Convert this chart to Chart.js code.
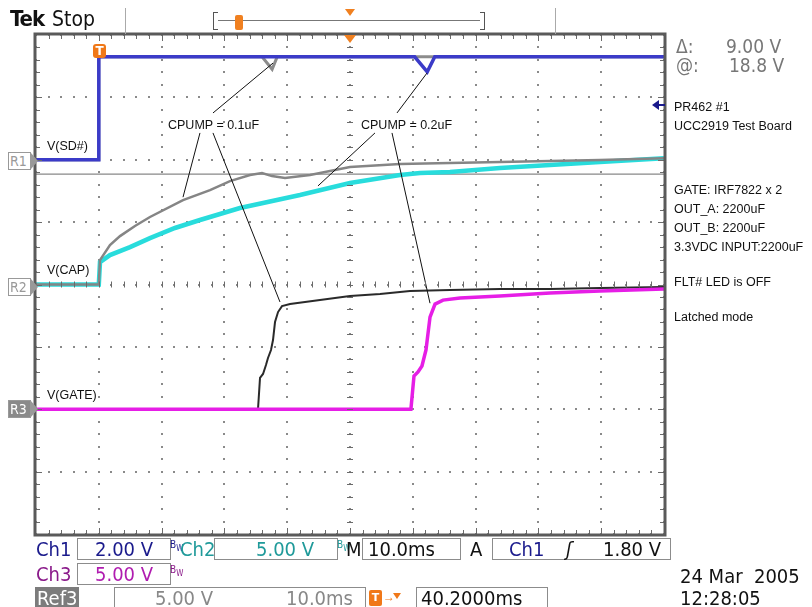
<!DOCTYPE html>
<html><head><meta charset="utf-8">
<script src="https://cdn.jsdelivr.net/npm/chart.js@4/dist/chart.umd.min.js"></script>
<style>
html,body{margin:0;padding:0;background:#fff;}
#wrap{position:relative;width:812px;height:607px;overflow:hidden;font-family:"Liberation Sans",Arial,sans-serif;}
canvas{position:absolute;left:0;top:0;}
.t{position:absolute;white-space:nowrap;line-height:1;}
.tek{font-family:"DejaVu Sans Condensed","DejaVu Sans",sans-serif;font-stretch:condensed;}
.box{position:absolute;border:1px solid #8c8c8c;height:20px;background:#fff;}
.lab{font-size:12.5px;color:#111;}
.big{font-size:19px;color:#777;}
.bar{font-size:20px;}
.bw{font-size:10px;}
.bw sub{font-size:8px;}
.rm{position:absolute;width:20px;height:16px;border:1px solid #999;color:#999;font-size:14px;font-family:"DejaVu Sans Condensed","DejaVu Sans",sans-serif;line-height:16px;text-align:left;padding-left:1px;background:#fff;}
.rm:after{content:"";position:absolute;right:-8px;top:0px;border-top:8px solid transparent;border-bottom:8px solid transparent;border-left:7px solid #999;}
.rm.sel{background:#8a8a8a;color:#fff;}
.sep{position:absolute;width:1px;background:#aaa;}
</style></head>
<body><div id="wrap">
<canvas id="c" width="812" height="607"></canvas>

<div class="t tek" style="left:10px;top:8px;font-size:22px;font-weight:bold;letter-spacing:-1px;color:#111;">Tek</div>
<div class="t tek" style="left:52px;top:9px;font-size:21px;color:#111;">Stop</div>
<div class="sep" style="left:125px;top:8px;height:26px;"></div>
<div class="sep" style="left:555px;top:8px;height:26px;"></div>
<div class="t" style="left:213px;top:12px;width:4px;height:16px;border:1px solid #555;border-right:none;"></div>
<div class="t" style="left:480px;top:12px;width:4px;height:16px;border:1px solid #555;border-left:none;"></div>
<div class="t" style="left:218px;top:20px;width:262px;height:1px;background:#777;"></div>
<div class="t" style="left:235px;top:15px;width:8px;height:15px;background:#f08020;border-radius:2px;"></div>
<div class="t" style="left:345px;top:9px;width:0;height:0;border-left:5px solid transparent;border-right:5px solid transparent;border-top:7px solid #f08020;"></div>

<div class="t tek big" style="left:676px;top:37px;">Δ:</div>
<div class="t tek big" style="left:726px;top:37px;">9.00 V</div>
<div class="t tek big" style="left:676px;top:56px;">@:</div>
<div class="t tek big" style="left:729px;top:56px;">18.8 V</div>

<div class="t" style="left:652px;top:100px;width:0;height:0;border-top:5px solid transparent;border-bottom:5px solid transparent;border-right:7px solid #1a1a8c;"></div>
<div class="t" style="left:658px;top:104px;width:7px;height:2px;background:#1a1a8c;"></div>
<div class="t lab" style="left:674px;top:101px;">PR462 #1</div>
<div class="t lab" style="left:674px;top:120px;">UCC2919 Test Board</div>
<div class="t lab" style="left:674px;top:184px;">GATE: IRF7822 x 2</div>
<div class="t lab" style="left:674px;top:203px;">OUT_A: 2200uF</div>
<div class="t lab" style="left:674px;top:222px;">OUT_B: 2200uF</div>
<div class="t lab" style="left:674px;top:241px;">3.3VDC INPUT:2200uF</div>
<div class="t lab" style="left:674px;top:276px;">FLT# LED is OFF</div>
<div class="t lab" style="left:674px;top:311px;">Latched mode</div>

<div class="t lab" style="left:47px;top:140px;">V(SD#)</div>
<div class="t lab" style="left:47px;top:264px;">V(CAP)</div>
<div class="t lab" style="left:47px;top:389px;">V(GATE)</div>
<div class="t lab" style="left:168px;top:119px;">CPUMP = 0.1uF</div>
<div class="t lab" style="left:361px;top:119px;">CPUMP = 0.2uF</div>

<div class="rm" style="left:8px;top:152px;">R1</div>
<div class="rm" style="left:8px;top:278px;">R2</div>
<div class="rm sel" style="left:8px;top:400px;">R3</div>

<div class="t" style="left:93px;top:44px;width:13px;height:14px;background:#f07818;border-radius:3px;color:#fff;font:bold 12px 'DejaVu Sans';text-align:center;line-height:14px;">T</div>
<div class="t" style="left:344px;top:35px;width:0;height:0;border-left:6px solid transparent;border-right:6px solid transparent;border-top:8px solid #f08020;"></div>

<!-- bottom bar -->
<div class="t tek bar" style="left:36px;top:539px;color:#1a1a8c;">Ch1</div>
<div class="box" style="left:77px;top:538px;width:92px;"></div>
<div class="t tek bar" style="left:95px;top:539px;color:#1a1a8c;">2.00 V</div>
<div class="t tek bw" style="left:170px;top:540px;color:#1a1a8c;">B<sub>W</sub></div>
<div class="t tek bar" style="left:180px;top:539px;color:#1f9a9a;">Ch2</div>
<div class="box" style="left:214px;top:538px;width:122px;"></div>
<div class="t tek bar" style="left:256px;top:539px;color:#1f9a9a;">5.00 V</div>
<div class="t tek bw" style="left:337px;top:540px;color:#1f9a9a;">B<sub>W</sub></div>
<div class="t tek bar" style="left:346px;top:539px;color:#111;">M</div>
<div class="box" style="left:362px;top:538px;width:97px;"></div>
<div class="t tek bar" style="left:368px;top:539px;color:#111;">10.0ms</div>
<div class="t tek bar" style="left:470px;top:539px;color:#111;">A</div>
<div class="box" style="left:492px;top:538px;width:177px;"></div>
<div class="t tek bar" style="left:509px;top:539px;color:#1a1a8c;">Ch1</div>
<div class="t tek bar" style="left:566px;top:539px;color:#111;font-style:italic;">ʃ</div>
<div class="t tek bar" style="left:603px;top:539px;color:#111;">1.80 V</div>

<div class="t tek bar" style="left:36px;top:564px;color:#8a1a8a;">Ch3</div>
<div class="box" style="left:77px;top:563px;width:92px;"></div>
<div class="t tek bar" style="left:95px;top:564px;color:#b01cb0;">5.00 V</div>
<div class="t tek bw" style="left:170px;top:565px;color:#8a1a8a;">B<sub>W</sub></div>

<div class="t tek bar" style="left:35px;top:587px;background:#7c7c7c;color:#fff;padding:1px 2px;height:20px;">Ref3</div>
<div class="box" style="left:114px;top:587px;width:250px;"></div>
<div class="t tek bar" style="left:155px;top:588px;color:#888;">5.00 V</div>
<div class="t tek bar" style="left:286px;top:588px;color:#888;">10.0ms</div>
<div class="t" style="left:369px;top:590px;width:13px;height:16px;background:#f07818;border-radius:2px;color:#fff;font:bold 11px 'DejaVu Sans';text-align:center;line-height:16px;">T</div>
<div class="t" style="left:383px;top:591px;color:#f07818;font-size:12px;">→</div>
<div class="t" style="left:393px;top:593px;width:0;height:0;border-left:4px solid transparent;border-right:4px solid transparent;border-top:6px solid #f07818;"></div>
<div class="box" style="left:416px;top:587px;width:130px;"></div>
<div class="t tek bar" style="left:421px;top:588px;color:#111;">40.2000ms</div>

<div class="t tek bar" style="left:680px;top:566px;color:#111;">24 Mar&nbsp; 2005</div>
<div class="t tek bar" style="left:680px;top:588px;color:#111;">12:28:05</div>
</div>
<script>
// ---- data (time in ms relative to trigger, voltage in V) ----
const sdTime      = [-10, 0, 0, 50.3, 52.3, 53.5, 90];
const sdVolts     = [0, 0, 3.3, 3.3, 2.82, 3.3, 3.3];
const sdRefTime   = [-10, 0, 0, 26.0, 27.6, 28.4, 90];
const sdRefVolts  = [0, 0, 3.3, 3.3, 2.9, 3.3, 3.3];
const capTime     = [-10, 0, 0.19, 1.78, 4.97, 8.15, 12.13, 16.11, 22.48, 32.04, 40.0, 47.96, 51.15, 55.92, 63.89, 71.85, 79.81, 90];
const capVolts    = [0, 0, 1.80, 2.36, 3.00, 3.72, 4.53, 5.17, 6.13, 7.17, 8.13, 8.77, 8.93, 9.01, 9.33, 9.57, 9.81, 10.13];
const capRefTime  = [-10, 0, 0.19, 1.78, 3.38, 5.76, 8.15, 13.41, 17.71, 20.89, 24.08, 25.99, 27.58, 29.65, 33.63, 40.0, 47.96, 55.92, 63.89, 71.85, 79.81, 90];
const capRefVolts = [0, 0, 1.96, 3.16, 3.88, 4.69, 5.41, 6.77, 7.57, 8.29, 8.77, 8.93, 8.69, 8.53, 8.77, 9.41, 9.65, 9.73, 9.81, 9.89, 9.97, 10.13];
const gateTime    = [-10, 49.7, 50.19, 50.83, 51.46, 52.10, 52.74, 53.54, 54.81, 57.52, 63.89, 71.85, 79.81, 90];
const gateVolts   = [0, 0, 2.67, 2.99, 3.47, 4.75, 7.39, 8.43, 8.75, 8.91, 9.07, 9.32, 9.48, 9.64];
const gateRefTime = [-10, 25.35, 25.67, 26.15, 26.62, 26.94, 27.42, 27.74, 28.06, 28.54, 29.17, 30.45, 35.22, 40.0, 44.78, 49.55, 55.92, 63.89, 71.85, 79.81, 90];
const gateRefVolts= [0, 0, 2.51, 2.83, 3.55, 4.11, 4.75, 5.55, 6.99, 7.79, 8.27, 8.43, 8.75, 9.07, 9.24, 9.48, 9.56, 9.64, 9.64, 9.72, 9.80];
// channel settings: volts per division and ground level (divisions from centre)
const voltsPerDiv = {ch1: 2, ch2: 5, ch3: 5};
const groundDiv   = {ch1: 2, ch2: 0, ch3: -2};
const refLineDiv  = 1.77;
// callout leader lines: [t0, div0, t1, div1]
const callouts = [
  [18.18, 2.75, 27.74, 3.55],
  [16.11, 2.43, 13.41, 1.40],
  [18.18, 2.43, 28.85, -0.28],
  [47.48, 2.75, 52.26, 3.39],
  [43.98, 2.43, 34.90, 1.58],
  [46.69, 2.43, 52.74, -0.30]
];
const timeRange = [-10, 90];
const divRange  = [-4, 4];
const msPerDiv  = 10;

function pts(ts, vs, ch){ return ts.map((t,i)=>({x:t, y:groundDiv[ch] + vs[i]/voltsPerDiv[ch]})); }
function ds(data, color, w, order){ return {data, borderColor:color, borderWidth:w, pointRadius:0, tension:0, fill:false, order}; }

const datasets = [
  ds([{x:timeRange[0],y:refLineDiv},{x:timeRange[1],y:refLineDiv}], '#6a6a6a', 1, 10),
  ds(pts(sdRefTime, sdRefVolts, 'ch1'), '#8c8c8c', 3, 9),
  ds(pts(capRefTime, capRefVolts, 'ch2'), '#858585', 2.5, 5),
  ds(pts(gateRefTime, gateRefVolts, 'ch3'), '#2a2a2a', 2, 4),
  ds(pts(sdTime, sdVolts, 'ch1'), '#3b3bc8', 3.5, 3),
  ds(pts(capTime, capVolts, 'ch2'), '#28dcdc', 4.5, 6),
  ds(pts(gateTime, gateVolts, 'ch3'), '#e61ee6', 3.5, 2)
];
callouts.forEach(c => datasets.push(ds([{x:c[0],y:c[1]},{x:c[2],y:c[3]}], '#111', 1, 1)));

// graticule: dotted division lines, ruler ticks on border and centre axes
const graticule = {
  id:'graticule',
  beforeDatasetsDraw(chart){
    const {ctx, chartArea:a, scales:{x, y}} = chart;
    ctx.save();
    ctx.fillStyle = '#8a8a8a';
    const nx = (timeRange[1]-timeRange[0])/msPerDiv, ny = divRange[1]-divRange[0];
    for(let i=0;i<=nx;i++){
      const px = x.getPixelForValue(timeRange[0]+i*msPerDiv);
      for(let j=0;j<=ny*5;j++){
        const py = y.getPixelForValue(divRange[1]-j/5);
        ctx.fillRect(Math.round(px)-1, Math.round(py)-1, 2, 2);
      }
    }
    for(let j=0;j<=ny;j++){
      const py = y.getPixelForValue(divRange[1]-j);
      for(let i=0;i<=nx*5;i++){
        const px = x.getPixelForValue(timeRange[0]+i*msPerDiv/5);
        ctx.fillRect(Math.round(px)-1, Math.round(py)-1, 2, 2);
      }
    }
    ctx.restore();
  },
  afterDraw(chart){
    const {ctx, chartArea:a, scales:{x, y}} = chart;
    ctx.save();
    const nx = (timeRange[1]-timeRange[0])/msPerDiv, ny = divRange[1]-divRange[0];
    const cx = x.getPixelForValue((timeRange[0]+timeRange[1])/2), cy = y.getPixelForValue(0);
    ctx.strokeStyle='#6a6a6a'; ctx.lineWidth=1;
    ctx.beginPath();
    for(let i=1;i<nx*5;i++){
      const px = Math.round(x.getPixelForValue(timeRange[0]+i*msPerDiv/5))+0.5;
      const L = i%5===0 ? 6 : 4;
      ctx.moveTo(px, a.top); ctx.lineTo(px, a.top+L);
      ctx.moveTo(px, a.bottom); ctx.lineTo(px, a.bottom-L);
      ctx.moveTo(px, cy-3); ctx.lineTo(px, cy+3);
    }
    for(let j=1;j<ny*5;j++){
      const py = Math.round(y.getPixelForValue(divRange[1]-j/5))+0.5;
      const L = j%5===0 ? 6 : 4;
      ctx.moveTo(a.left, py); ctx.lineTo(a.left+L, py);
      ctx.moveTo(a.right, py); ctx.lineTo(a.right-L, py);
      ctx.moveTo(cx-3, py); ctx.lineTo(cx+3, py);
    }
    ctx.stroke();
    ctx.strokeStyle='#5a5a5a'; ctx.lineWidth=3;
    ctx.strokeRect(a.left-1, a.top-1, a.right-a.left+2, a.bottom-a.top+2);
    ctx.restore();
  }
};

new Chart(document.getElementById('c'), {
  type:'line',
  data:{datasets},
  options:{
    responsive:false, animation:false, events:[],
    layout:{padding:{left:36, top:35, right:148, bottom:73}},
    plugins:{legend:{display:false}, tooltip:{enabled:false}},
    scales:{
      x:{type:'linear', display:false, min:timeRange[0], max:timeRange[1]},
      y:{type:'linear', display:false, min:divRange[0], max:divRange[1]}
    }
  },
  plugins:[graticule]
});
</script>
</body></html>
